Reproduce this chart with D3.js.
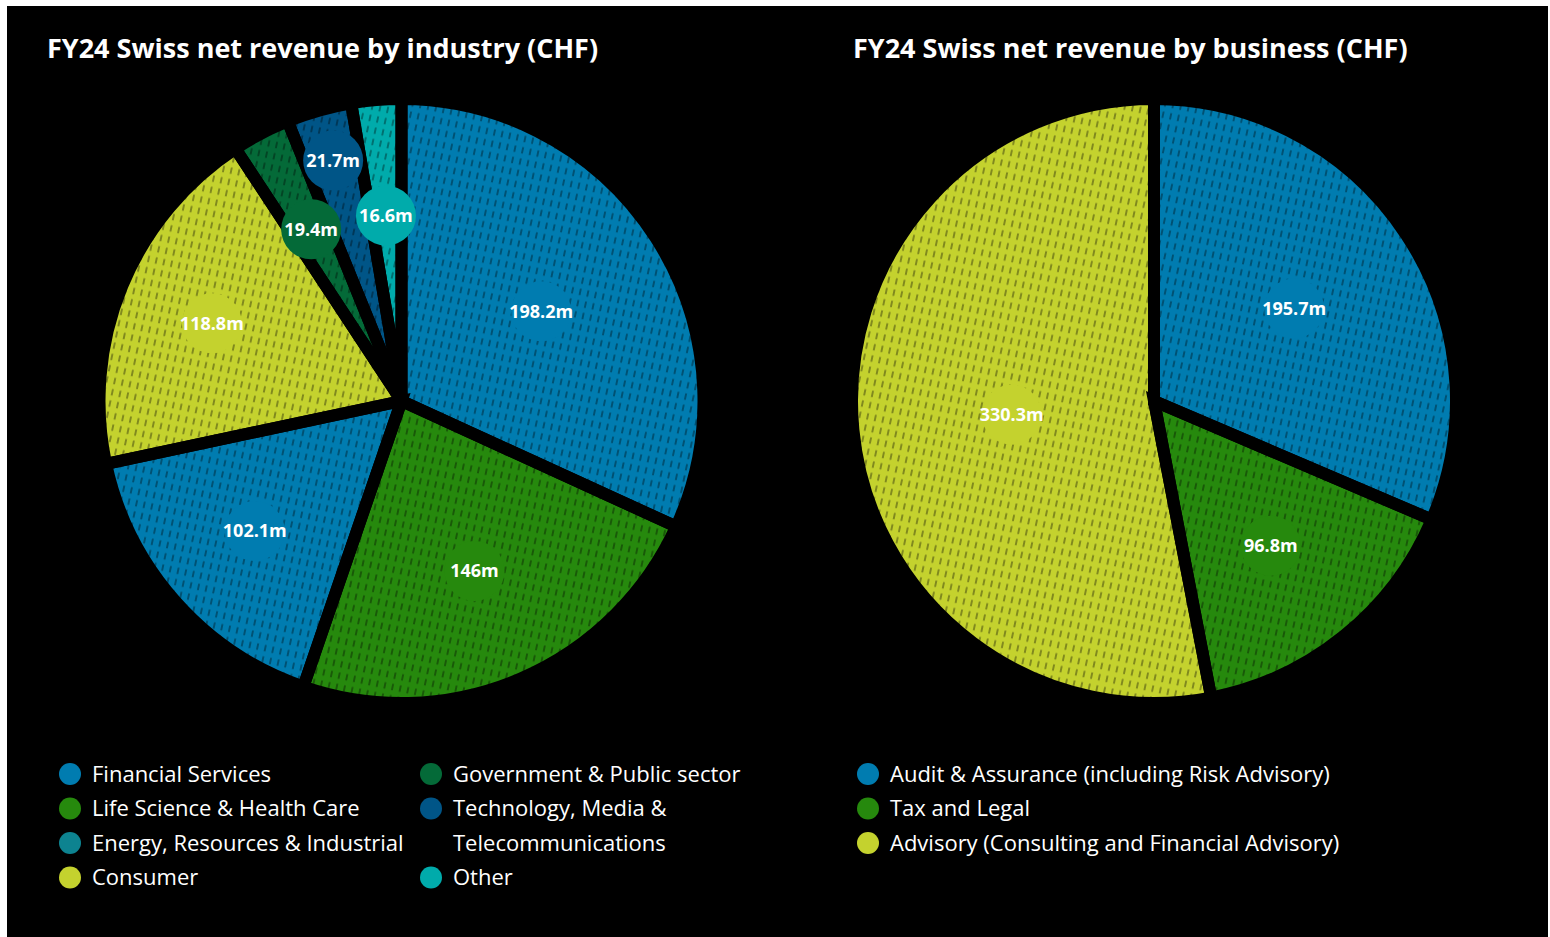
<!DOCTYPE html>
<html>
<head>
<meta charset="utf-8">
<title>FY24 Swiss net revenue</title>
<script src="https://d3js.org/d3.v7.min.js"></script>
<style>
  body { margin: 0; background: #fff; }
  text { font-family: "Open Sans", sans-serif; }
</style>
</head>
<body>
<div id="chart"></div>
<script>
// data
const industryNames = ['Financial Services', 'Life Science & Health Care', 'Energy, Resources & Industrial',
  'Consumer', 'Government & Public sector', 'Technology, Media & Telecommunications', 'Other'];
const industryValues = [198.2, 146, 102.1, 118.8, 19.4, 21.7, 16.6];
const industryLabels = ['198.2m', '146m', '102.1m', '118.8m', '19.4m', '21.7m', '16.6m'];

const businessNames = ['Audit & Assurance (including Risk Advisory)', 'Tax and Legal',
  'Advisory (Consulting and Financial Advisory)'];
const businessValues = [195.7, 96.8, 330.3];
const businessLabels = ['195.7m', '96.8m', '330.3m'];

const titles = ['FY24 Swiss net revenue by industry (CHF)', 'FY24 Swiss net revenue by business (CHF)'];

// colours
const blue = '#007cb0', green = '#26890d', teal = '#0d8390', lime = '#c4d22e',
  darkGreen = '#046a38', darkBlue = '#005587', aqua = '#00abab';
const industryColors = [blue, green, teal, lime, darkGreen, darkBlue, aqua];
const industryFills = [blue, green, blue, lime, darkGreen, darkBlue, aqua]; // energy slice is drawn blue
const businessColors = [blue, green, lime];

// label distance from centre, per slice
const industryLabelR = [166, 185, 196, 205, 194, 250, 186];
const businessLabelR = [168, 186, 143];

const width = 1550, height = 937;

const svg = d3.select('#chart').append('svg')
  .attr('width', width)
  .attr('height', height);

svg.append('rect')
  .attr('x', 7).attr('y', 6)
  .attr('width', width - 9).attr('height', height - 6)
  .attr('fill', '#000');

const defs = svg.append('defs');
defs.append('pattern')
    .attr('id', 'hatch')
    .attr('patternUnits', 'userSpaceOnUse')
    .attr('width', 7.8).attr('height', 11.5)
    .attr('patternTransform', 'rotate(12)')
  .append('line')
    .attr('x1', 3.9).attr('x2', 3.9)
    .attr('y1', 2.5).attr('y2', 8.8)
    .attr('stroke', 'rgba(0,0,0,0.45)')
    .attr('stroke-width', 1.5);

const R = 302;
const pie = d3.pie().sort(null).value(d => d);
const arc = d3.arc().innerRadius(0).outerRadius(R);

function drawPie (cx, cy, values, labels, fills, labelFills, labelR) {
  const g = svg.append('g').attr('transform', `translate(${cx},${cy})`);
  const arcs = pie(values);

  g.selectAll('path.fill').data(arcs).join('path')
    .attr('class', 'fill')
    .attr('d', arc)
    .attr('fill', (d, i) => fills[i]);

  g.selectAll('path.hatch').data(arcs).join('path')
    .attr('class', 'hatch')
    .attr('d', arc)
    .attr('fill', 'url(#hatch)');

  // thick black outline makes the gaps between slices
  g.selectAll('path.edge').data(arcs).join('path')
    .attr('class', 'edge')
    .attr('d', arc)
    .attr('fill', 'none')
    .attr('stroke', '#000')
    .attr('stroke-width', 12);

  const lab = g.selectAll('g.lab').data(arcs).join('g')
    .attr('class', 'lab')
    .attr('transform', (d, i) => {
      const a = (d.startAngle + d.endAngle) / 2;
      return `translate(${Math.sin(a) * labelR[i]},${-Math.cos(a) * labelR[i]})`;
    });
  lab.append('circle')
    .attr('r', 30)
    .attr('fill', (d, i) => labelFills[i]);
  lab.append('text')
    .attr('text-anchor', 'middle')
    .attr('dy', '0.36em')
    .attr('fill', '#fff')
    .style('font-size', '18px')
    .style('font-weight', 700)
    .text((d, i) => labels[i]);
}

drawPie(401.5, 401, industryValues, industryLabels, industryFills, industryFills, industryLabelR);
drawPie(1154, 401, businessValues, businessLabels, businessColors, businessColors, businessLabelR);

// titles
[47, 853].forEach((x, i) => {
  svg.append('text')
    .attr('x', x).attr('y', 58)
    .attr('fill', '#fff')
    .style('font-size', '27px')
    .style('font-weight', 700)
    .text(titles[i]);
});

// legends
const rowStep = 34.5;
function drawLegend (x, y, names, colors, perCol, colGap, maxW) {
  const g = svg.append('g').attr('transform', `translate(${x},${y})`);
  let col = 0, line = 0;
  names.forEach((name, i) => {
    if (i > 0 && i % perCol === 0) { col++; line = 0; }
    const item = g.append('g').attr('transform', `translate(${col * colGap},${line * rowStep})`);
    item.append('circle').attr('r', 11).attr('fill', colors[i]);
    const t = item.append('text')
      .attr('dy', '0.35em')
      .attr('fill', '#fff')
      .style('font-size', '22px');
    // simple word wrap
    const words = name.split(' ');
    let cur = [], tspan = t.append('tspan').attr('x', 22), n = 0;
    words.forEach(w => {
      cur.push(w);
      tspan.text(cur.join(' '));
      if (tspan.node().getComputedTextLength() > maxW && cur.length > 1) {
        cur.pop();
        tspan.text(cur.join(' '));
        cur = [w];
        n++;
        tspan = t.append('tspan').attr('x', 22).attr('dy', rowStep).text(w);
      }
    });
    line += n + 1;
  });
}

drawLegend(70, 774, industryNames, industryColors, 4, 361, 330);
drawLegend(868, 774, businessNames, businessColors, 3, 0, 700);
</script>
</body>
</html>
